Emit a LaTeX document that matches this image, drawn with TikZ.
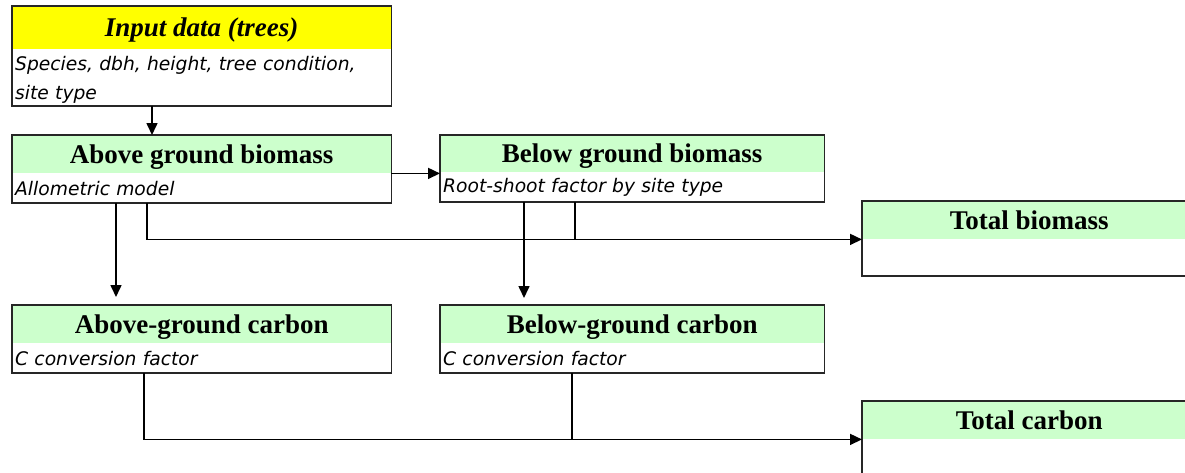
\documentclass[tikz,border=0pt]{standalone}
\usepackage{fontspec}
\setmainfont{Liberation Serif}
\newfontfamily\notefont{DejaVu Sans}
\usetikzlibrary{positioning,arrows.meta}
\definecolor{headgreen}{HTML}{CCFFCC}
\definecolor{headyellow}{HTML}{FFFF00}

\tikzset{
  head/.style={fill=#1, inner sep=0pt, anchor=north west, text height=24pt, text depth=6pt,
    font=\fontsize{27pt}{30pt}\selectfont\bfseries},
  note/.style={inner xsep=3pt, inner ysep=0pt, anchor=north west, align=left,
    font={\notefont\itshape\fontsize{18.7pt}{29pt}\selectfont}},
  frame/.style={draw=black!85, line width=1.8pt},
  arr/.style={line width=1.6pt, -{Triangle[length=12pt,width=11pt]}},
  lnk/.style={line width=1.6pt}
}

\begin{document}
\begin{tikzpicture}[x=1pt, y=-1pt]
\useasboundingbox (0,0) rectangle (1185,472);

% input box
\node[head=headyellow, minimum width=379pt, minimum height=43pt] (input) at (12,6) {\itshape Input data (trees)};
\node[note, text width=373pt, minimum height=56pt] (inputn) at ([yshift=-2pt]input.south west) {Species, dbh, height, tree condition,\\site type};
\draw[frame] (input.north west) rectangle ([yshift=2pt]inputn.south east);

% biomass row
\node[head=headgreen, minimum width=379pt, minimum height=38pt] (abg) at (12,135) {Above ground biomass};
\node[note, text width=373pt, minimum height=29pt] (abgn) at (abg.south west) {Allometric model};
\draw[frame] (abg.north west) rectangle (abgn.south east);

\node[head=headgreen, minimum width=384pt, minimum height=37pt] (bgb) at (440,135) {Below ground biomass};
\node[note, text width=378pt, minimum height=29pt] (bgbn) at (bgb.south west) {Root-shoot factor by site type};
\draw[frame] (bgb.north west) rectangle (bgbn.south east);

\node[head=headgreen, minimum width=334pt, minimum height=38pt] (tb) at (862,201) {Total biomass};
\node[note, text width=328pt, minimum height=36pt] (tbn) at (tb.south west) {};
\draw[frame] (tb.north west) rectangle (tbn.south east);

% carbon row
\node[head=headgreen, minimum width=379pt, minimum height=38pt] (agc) at (12,305) {Above-ground carbon};
\node[note, text width=373pt, minimum height=29pt] (agcn) at (agc.south west) {C conversion factor};
\draw[frame] (agc.north west) rectangle (agcn.south east);

\node[head=headgreen, minimum width=384pt, minimum height=38pt] (bgc) at (440,305) {Below-ground carbon};
\node[note, text width=378pt, minimum height=29pt] (bgcn) at (bgc.south west) {C conversion factor};
\draw[frame] (bgc.north west) rectangle (bgcn.south east);

\node[head=headgreen, minimum width=334pt, minimum height=38pt] (tc) at (862,401) {Total carbon};
\node[note, text width=328pt, minimum height=40pt] (tcn) at (tc.south west) {};
\draw[frame] (tc.north west) rectangle (tcn.south east);

% connectors
\draw[arr] ([xshift=140pt,yshift=2pt]inputn.south west) -- ([xshift=140pt]abg.north west);
\draw[arr] (abgn.north east) -- (abgn.north east -| bgbn.west);
\draw[arr] ([xshift=104pt]abgn.south west) -- ([xshift=104pt,yshift=8pt]agc.north west);
\draw[arr] ([xshift=84pt]bgbn.south west) -- ([xshift=84pt,yshift=7pt]bgc.north west);
\draw[arr] ([xshift=135pt]abgn.south west) |- (tbn.north west);
\coordinate (bgbjoin) at ([xshift=135pt]bgbn.south west);
\draw[lnk] (bgbjoin) -- (bgbjoin |- tbn.north west);
\draw[arr] ([xshift=132pt]agcn.south west) |- (tcn.north west);
\coordinate (bgcjoin) at ([xshift=132pt]bgcn.south west);
\draw[lnk] (bgcjoin) -- (bgcjoin |- tcn.north west);
\end{tikzpicture}
\end{document}
